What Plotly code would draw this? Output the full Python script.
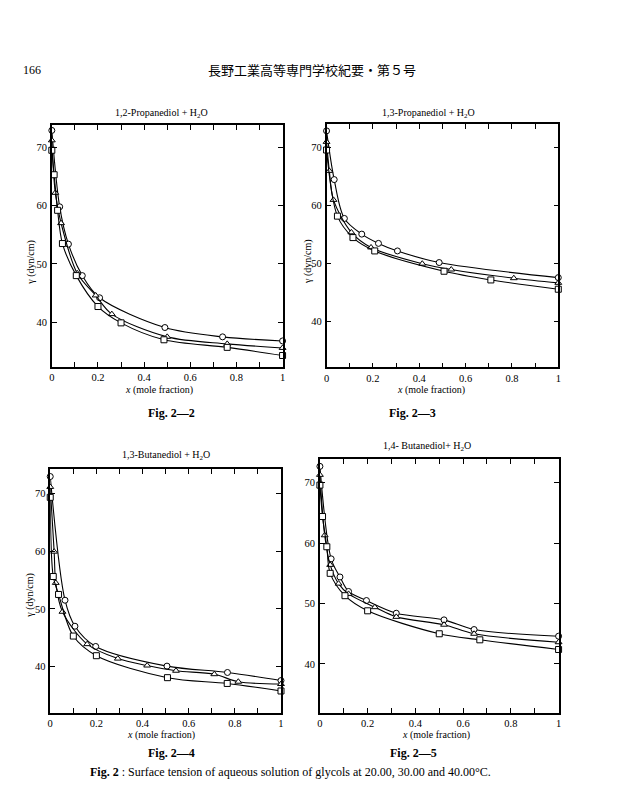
import plotly.graph_objects as go

W, H = 622, 788

# ---------- data ----------
# Fig 2-2  1,2-Propanediol + H2O
p12_x20 = [0, 0.034, 0.072, 0.132, 0.207, 0.49, 0.74, 1.0]
p12_y20 = [72.9, 59.8, 53.4, 48.0, 44.2, 39.1, 37.5, 36.8]
p12_x30 = [0, 0.015, 0.04, 0.11, 0.19, 0.26, 0.50, 0.76, 1.0]
p12_y30 = [71.2, 62.2, 57.0, 48.4, 44.6, 41.4, 37.5, 36.3, 35.6]
p12_x40 = [0, 0.01, 0.025, 0.046, 0.106, 0.20, 0.30, 0.486, 0.76, 1.0]
p12_y40 = [69.5, 65.3, 59.2, 53.5, 48.0, 42.7, 39.9, 37.0, 35.7, 34.3]

# Fig 2-3  1,3-Propanediol + H2O
p13_x20 = [0, 0.033, 0.077, 0.152, 0.224, 0.306, 0.486, 1.0]
p13_y20 = [72.9, 64.5, 57.8, 55.1, 53.5, 52.2, 50.2, 47.6]
p13_x30 = [0, 0.012, 0.03, 0.107, 0.192, 0.413, 0.538, 0.808, 1.0]
p13_y30 = [71.0, 66.0, 61.0, 55.4, 52.8, 50.0, 49.0, 47.5, 46.7]
p13_x40 = [0, 0.047, 0.114, 0.208, 0.507, 0.709, 1.0]
p13_y40 = [69.6, 58.2, 54.5, 52.2, 48.7, 47.2, 45.6]

# Fig 2-4  1,3-Butanediol + H2O
b13_x20 = [0, 0.064, 0.107, 0.197, 0.506, 0.768, 1.0]
b13_y20 = [72.9, 51.5, 47.0, 43.5, 40.1, 39.0, 37.6]
b13_x30 = [0, 0.017, 0.024, 0.053, 0.16, 0.293, 0.42, 0.545, 0.711, 0.815, 1.0]
b13_y30 = [71.1, 59.9, 54.5, 49.5, 43.9, 41.4, 40.2, 39.3, 38.7, 37.4, 37.0]
b13_x40 = [0, 0.013, 0.036, 0.10, 0.20, 0.508, 0.767, 1.0]
b13_y40 = [69.3, 55.6, 52.5, 45.3, 41.9, 38.1, 37.1, 35.8]

# Fig 2-5  1,4-Butanediol + H2O
b14_x20 = [0, 0.047, 0.084, 0.12, 0.195, 0.32, 0.52, 0.646, 1.0]
b14_y20 = [72.7, 57.4, 54.4, 52.0, 50.5, 48.4, 47.3, 45.7, 44.6]
b14_x30 = [0, 0.02, 0.043, 0.078, 0.12, 0.23, 0.32, 0.52, 0.646, 1.0]
b14_y30 = [71.3, 61.3, 56.4, 53.3, 51.6, 49.4, 47.8, 46.5, 45.0, 43.6]
b14_x40 = [0, 0.011, 0.029, 0.043, 0.105, 0.20, 0.50, 0.67, 1.0]
b14_y40 = [69.6, 64.4, 59.4, 55.0, 51.3, 48.8, 45.0, 44.0, 42.4]

x_tickvals = [0, 0.2, 0.4, 0.6, 0.8, 1.0]
x_ticktext = ["0", "0.2", "0.4", "0.6", "0.8", "1"]
y_tickvals = [40, 50, 60, 70]
y_ticktext = ["40", "50", "60", "70"]

panel_titles = ["1,2-Propanediol + H<sub>2</sub>O", "1,3-Propanediol + H<sub>2</sub>O",
                "1,3-Butanediol + H<sub>2</sub>O", "1,4- Butanediol+ H<sub>2</sub>O"]
fig_labels = ["Fig. 2\u20142", "Fig. 2\u20143", "Fig. 2\u20144", "Fig. 2\u20145"]

series = [
    [(p12_x20, p12_y20), (p12_x30, p12_y30), (p12_x40, p12_y40)],
    [(p13_x20, p13_y20), (p13_x30, p13_y30), (p13_x40, p13_y40)],
    [(b13_x20, b13_y20), (b13_x30, b13_y30), (b13_x40, b13_y40)],
    [(b14_x20, b14_y20), (b14_x30, b14_y30), (b14_x40, b14_y40)],
]
symbols = ["circle", "triangle-up", "square"]

# ---------- layout geometry (pixels) ----------
boxes = [(49.3, 125, 282.3, 367), (326.7, 124.3, 560.7, 367.3),
         (47.7, 469.3, 280.7, 712.7), (320, 459, 561, 712.7)]
yranges = [(32.33, 73.83), (32.14, 74.03), (32.04, 74.15), (31.94, 73.92)]

SERIF = "Liberation Serif"

def fx(px):
    return px / W

def fy(py):
    return 1 - py / H

fig = go.Figure()
layout = dict(width=W, height=H, margin=dict(l=0, r=0, t=0, b=0),
              paper_bgcolor="white", plot_bgcolor="white", showlegend=False,
              font=dict(family=SERIF, color="black"))
annotations = []

def note(x, y, text, size=10, family=SERIF, xanchor="center", **kw):
    annotations.append(dict(x=fx(x), y=fy(y), xref="paper", yref="paper", text=text,
                            showarrow=False, xanchor=xanchor, yanchor="middle",
                            font=dict(family=family, size=size, color="black"), **kw))

for i in range(4):
    n = "" if i == 0 else str(i + 1)
    l, t, r, b = boxes[i]
    for (xs, ys), sym in zip(series[i], symbols):
        fig.add_trace(go.Scatter(
            x=xs, y=ys, mode="lines+markers", xaxis="x" + n, yaxis="y" + n,
            line=dict(color="black", width=1.1, shape="spline", smoothing=0.9),
            marker=dict(symbol=sym, size=6, color="white",
                        line=dict(color="black", width=1)),
            cliponaxis=False, hoverinfo="skip"))
    axcommon = dict(showline=True, linecolor="black", linewidth=1.5, mirror="allticks",
                    ticks="inside", ticklen=5, tickwidth=1.2, tickcolor="black",
                    showgrid=False, zeroline=False,
                    tickfont=dict(family=SERIF, size=10.5, color="black"))
    layout["xaxis" + n] = dict(domain=[fx(l), fx(r)], range=[0, 1], anchor="y" + n,
                               tickmode="array", tickvals=x_tickvals, ticktext=x_ticktext,
                               minor=dict(ticks="inside", ticklen=5, tickwidth=1.2,
                                          tickcolor="black", dtick=0.1, tick0=0,
                                          showgrid=False),
                               **axcommon)
    layout["yaxis" + n] = dict(domain=[fy(b), fy(t)], range=list(yranges[i]), anchor="x" + n,
                               tickmode="array", tickvals=y_tickvals, ticktext=y_ticktext,
                               ticklabelstandoff=1,
                               **axcommon)

# panel titles
title_pos = [(160, 113), (430, 113), (165, 456), (428, 446)]
for (x, y), txt in zip(title_pos, panel_titles):
    note(x, y, txt, size=10)
# x-axis titles
for x, y in [(158, 390), (432, 390), (160, 735), (437, 735)]:
    note(x, y, "<i>x</i> (mole fraction)", size=10)
# y-axis titles
for x, y in [(28, 262), (308, 262), (27, 595)]:
    note(x, y, "\u03b3 (dyn/cm)", size=10, textangle=-90)
# figure labels
for (x, y), txt in zip([(170, 413), (413, 413), (170, 753), (415, 753)], fig_labels):
    note(x, y, "<b>" + txt + "</b>", size=12)
# header
note(18, 70, "166", size=12, xanchor="left")
note(312, 70, "長野工業高等専門学校紀要・第５号", size=13, family="Noto Sans CJK JP")
# caption
note(290, 772, "<b>Fig. 2</b> : Surface tension of aqueous solution of glycols at 20.00, 30.00 and 40.00\u00b0C.",
     size=12)

layout["annotations"] = annotations
fig.update_layout(**layout)
fig.write_html("out.html")
